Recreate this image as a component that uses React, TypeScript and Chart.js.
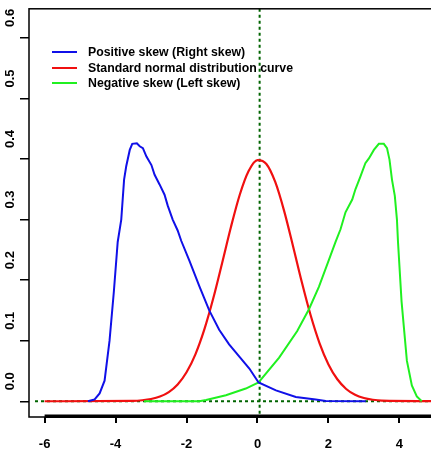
import { useEffect, useRef } from "react";
import { Chart, registerables } from "chart.js";

Chart.register(...registerables);

// Axis ticks
const xTicks = [-6, -4, -2, 0, 2, 4, 6];
const yTicks = [0, 0.1, 0.2, 0.3, 0.4, 0.5, 0.6];

// Legend entries (top to bottom) and their colours
const legendLabels = [
  "Positive skew (Right skew)",
  "Standard normal distribution curve",
  "Negative skew (Left skew)",
];
const blueColor = "#1010e8";
const redColor = "#f01010";
const greenColor = "#20f020";
const refLineColor = "#006400";

// Right-skewed density
const positiveX = [
  -4.78, -4.59, -4.45, -4.31, -4.17, -4.05, -3.94, -3.84, -3.76, -3.7, -3.6, -3.53,
  -3.4, -3.32, -3.23, -3.13, -2.99, -2.9, -2.76, -2.62, -2.53, -2.39, -2.25, -2.15,
  -1.92, -1.64, -1.36, -1.08, -0.8, -0.5, -0.23, 0.03, 0.52, 1.08, 1.64, 1.92, 3.05,
];
const positiveY = [
  0, 0.003, 0.013, 0.034, 0.1, 0.18, 0.263, 0.3, 0.366, 0.388, 0.415, 0.425,
  0.426, 0.421, 0.418, 0.404, 0.39, 0.374, 0.358, 0.341, 0.323, 0.3, 0.282, 0.265,
  0.232, 0.19, 0.15, 0.118, 0.094, 0.073, 0.054, 0.031, 0.018, 0.007, 0.003, 0.0005, 0,
];

// Standard normal density
const normalX = [
  -6, -3.5, -3.25, -3, -2.75, -2.5, -2.25, -2, -1.75, -1.5, -1.25, -1, -0.75, -0.5,
  -0.25, 0, 0.25, 0.5, 0.75, 1, 1.25, 1.5, 1.75, 2, 2.25, 2.5, 2.75, 3, 3.25, 3.5, 6.5,
];
const normalY = [
  0, 0.0007, 0.0017, 0.0037, 0.0077, 0.0151, 0.0277, 0.0478, 0.0775, 0.1182, 0.1691,
  0.2275, 0.2874, 0.341, 0.3802, 0.3982, 0.3918, 0.3621, 0.3144, 0.2565, 0.1965, 0.1415,
  0.0957, 0.0608, 0.0363, 0.0203, 0.0107, 0.0053, 0.0025, 0.0011, 0,
];

// Left-skewed density
const negativeX = [
  -3.2, -1.64, -1.45, -0.89, -0.33, 0.03, 0.61, 1.12, 1.45, 1.73, 2.01, 2.2, 2.34,
  2.48, 2.67, 2.76, 2.9, 3.04, 3.14, 3.28, 3.42, 3.56, 3.65, 3.72, 3.79, 3.87, 3.93,
  3.96, 4.06, 4.21, 4.35, 4.49, 4.63,
];
const negativeY = [
  0, 0, 0.002, 0.01, 0.021, 0.031, 0.072, 0.116, 0.152, 0.189, 0.233, 0.263, 0.284,
  0.312, 0.333, 0.35, 0.371, 0.393, 0.401, 0.415, 0.425, 0.425, 0.418, 0.399, 0.366,
  0.339, 0.3, 0.263, 0.165, 0.067, 0.026, 0.008, 0,
];

// Vertical reference line position
const meanLineX = 0.06;

const toPoints = (xs: number[], ys: number[]) => xs.map((x, i) => ({ x, y: ys[i] }));

const tickFont = { family: "Liberation Sans", weight: "bold" as const, size: 13 };

export default function App() {
  const canvasRef = useRef<HTMLCanvasElement | null>(null);

  useEffect(() => {
    const canvas = canvasRef.current;
    if (!canvas) return;

    // Dotted reference lines under the curves
    const refLines = {
      id: "refLines",
      beforeDatasetsDraw(chart: any) {
        const { ctx, chartArea, scales } = chart;
        const y0 = scales.y.getPixelForValue(0);
        const xm = scales.x.getPixelForValue(meanLineX);
        ctx.save();
        ctx.strokeStyle = refLineColor;
        ctx.lineWidth = 2;
        ctx.setLineDash([3, 3]);
        ctx.beginPath();
        ctx.moveTo(chartArea.left + 6, y0);
        ctx.lineTo(chartArea.right, y0);
        ctx.moveTo(xm, chartArea.top);
        ctx.lineTo(xm, chartArea.bottom);
        ctx.stroke();
        ctx.restore();
      },
    };

    // Plot frame, heavy x axis line and the in-plot legend
    const frame = {
      id: "frame",
      afterDraw(chart: any) {
        const { ctx, chartArea, scales } = chart;
        ctx.save();
        ctx.strokeStyle = "#000";
        ctx.lineWidth = 1.5;
        ctx.strokeRect(chartArea.left, chartArea.top, chartArea.right - chartArea.left, chartArea.bottom - chartArea.top);
        const xa = scales.x.getPixelForValue(xTicks[0]);
        const xb = scales.x.getPixelForValue(xTicks[xTicks.length - 1]);
        ctx.lineWidth = 3.5;
        ctx.beginPath();
        ctx.moveTo(xa, chartArea.bottom - 0.8);
        ctx.lineTo(xb, chartArea.bottom - 0.8);
        ctx.stroke();

        const colors = [blueColor, redColor, greenColor];
        const rowY = [52, 68, 83];
        ctx.font = "bold 12.3px 'Liberation Sans'";
        ctx.textBaseline = "middle";
        ctx.textAlign = "left";
        legendLabels.forEach((label, i) => {
          ctx.strokeStyle = colors[i];
          ctx.lineWidth = 2;
          ctx.beginPath();
          ctx.moveTo(52, rowY[i]);
          ctx.lineTo(77, rowY[i]);
          ctx.stroke();
          ctx.fillStyle = "#000";
          ctx.fillText(label, 88, rowY[i] + 0.5);
        });
        ctx.restore();
      },
    };

    const lineStyle = {
      showLine: true,
      pointRadius: 0,
      borderWidth: 2,
      tension: 0,
      fill: false,
    };

    const chart = new Chart(canvas, {
      type: "scatter",
      data: {
        datasets: [
          { label: legendLabels[0], data: toPoints(positiveX, positiveY), borderColor: blueColor, ...lineStyle },
          { label: legendLabels[2], data: toPoints(negativeX, negativeY), borderColor: greenColor, ...lineStyle },
          {
            label: legendLabels[1],
            data: toPoints(normalX, normalY),
            borderColor: redColor,
            ...lineStyle,
            borderWidth: 2.2,
            cubicInterpolationMode: "monotone",
          },
        ],
      },
      options: {
        animation: false,
        responsive: false,
        devicePixelRatio: 1,
        layout: { padding: { top: 3.5, right: 0, left: 0, bottom: 0 } },
        plugins: { legend: { display: false }, tooltip: { enabled: false } },
        scales: {
          x: {
            type: "linear",
            min: -6.44,
            max: 6.44,
            afterFit: (s: any) => {
              s.height = 40;
            },
            afterBuildTicks: (s: any) => {
              s.ticks = xTicks.map((v) => ({ value: v }));
            },
            border: { display: false },
            grid: { drawOnChartArea: false, color: "#000", lineWidth: 2, tickLength: 6 },
            ticks: { font: tickFont, color: "#000", padding: 14, maxRotation: 0, autoSkip: false },
          },
          y: {
            type: "linear",
            min: -0.026,
            max: 0.648,
            afterFit: (s: any) => {
              s.width = 29;
            },
            afterBuildTicks: (s: any) => {
              s.ticks = yTicks.map((v) => ({ value: v }));
            },
            border: { display: false },
            grid: { drawOnChartArea: false, color: "#000", lineWidth: 1.5, tickLength: 9 },
            ticks: {
              font: tickFont,
              color: "#000",
              padding: 1,
              minRotation: 90,
              maxRotation: 90,
              crossAlign: "center",
              labelOffset: -20,
              autoSkip: false,
              callback: (v: any) => Number(v).toFixed(1),
            },
          },
        },
      },
      plugins: [refLines, frame],
    });

    return () => chart.destroy();
  }, []);

  return (
    <div style={{ position: "fixed", left: 0, top: 0, width: 431, height: 457, overflow: "hidden", background: "#fff" }}>
      <canvas ref={canvasRef} width={488} height={457} style={{ display: "block" }} />
    </div>
  );
}
